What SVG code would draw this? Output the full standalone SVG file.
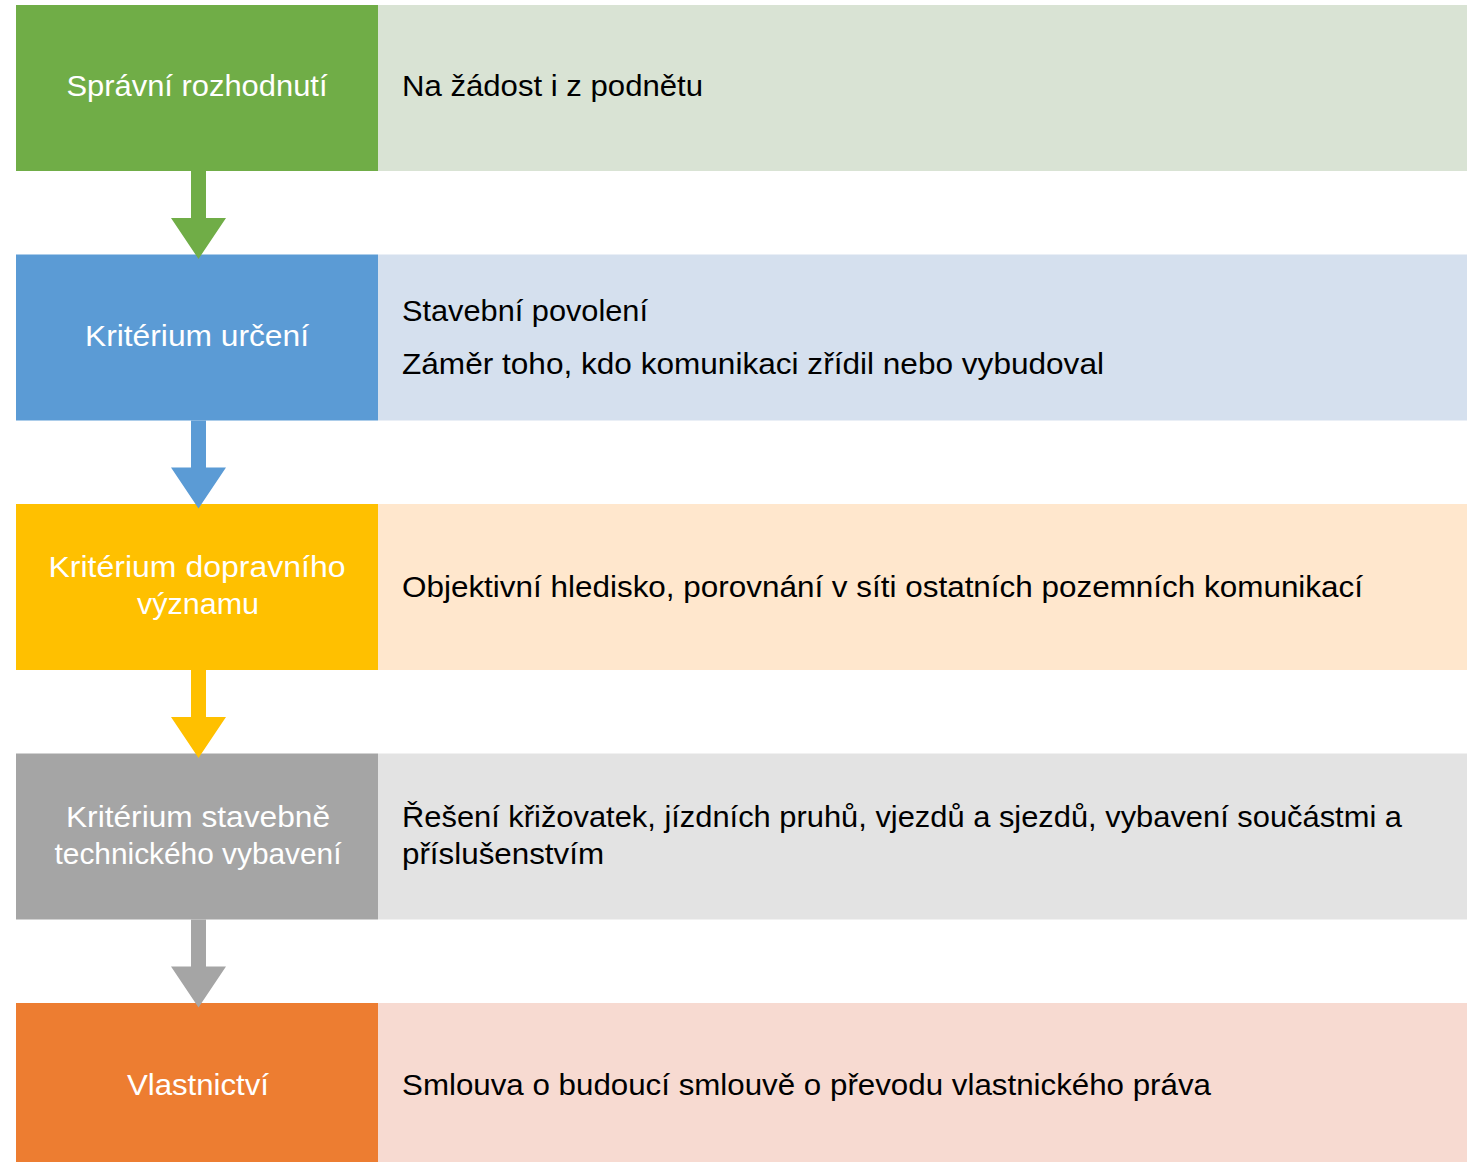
<svg xmlns="http://www.w3.org/2000/svg" width="1473" height="1162" viewBox="0 0 1473 1162">
<style>
text{font-family:"Liberation Sans",Arial,sans-serif;font-size:30px}
.l{fill:#FFFFFF;text-anchor:middle}
.r{fill:#000000}
</style>
<rect width="1473" height="1162" fill="#FFFFFF"/>
<g id="row1">
<rect x="16" y="5" width="362" height="166" fill="#70AD47"/>
<rect x="378" y="5" width="1089" height="166" fill="#D9E3D4"/>
<text class="l" x="197" y="95.5" textLength="261" lengthAdjust="spacingAndGlyphs">Správní rozhodnutí</text>
<text class="r" x="402" y="95.5" textLength="301" lengthAdjust="spacingAndGlyphs">Na žádost i z podnětu</text>
</g>
<g id="row2">
<rect x="16" y="254.5" width="362" height="166" fill="#5B9BD5"/>
<rect x="378" y="254.5" width="1089" height="166" fill="#D5E0EE"/>
<text class="l" x="197" y="346" textLength="224" lengthAdjust="spacingAndGlyphs">Kritérium určení</text>
<text class="r" x="402" y="321" textLength="246" lengthAdjust="spacingAndGlyphs">Stavební povolení</text>
<text class="r" x="402" y="374" textLength="702" lengthAdjust="spacingAndGlyphs">Záměr toho, kdo komunikaci zřídil nebo vybudoval</text>
</g>
<g id="row3">
<rect x="16" y="504" width="362" height="166" fill="#FFC000"/>
<rect x="378" y="504" width="1089" height="166" fill="#FFE7CD"/>
<text class="l" x="197" y="577" textLength="297" lengthAdjust="spacingAndGlyphs">Kritérium dopravního</text>
<text class="l" x="198" y="614" textLength="122" lengthAdjust="spacingAndGlyphs">významu</text>
<text class="r" x="402" y="596.5" textLength="961" lengthAdjust="spacingAndGlyphs">Objektivní hledisko, porovnání v síti ostatních pozemních komunikací</text>
</g>
<g id="row4">
<rect x="16" y="753.5" width="362" height="166" fill="#A5A5A5"/>
<rect x="378" y="753.5" width="1089" height="166" fill="#E3E3E3"/>
<text class="l" x="198" y="826.5" textLength="264" lengthAdjust="spacingAndGlyphs">Kritérium stavebně</text>
<text class="l" x="198" y="863.5" textLength="287" lengthAdjust="spacingAndGlyphs">technického vybavení</text>
<text class="r" x="402" y="826.5" textLength="1000" lengthAdjust="spacingAndGlyphs">Řešení křižovatek, jízdních pruhů, vjezdů a sjezdů, vybavení součástmi a</text>
<text class="r" x="402" y="863.5" textLength="202" lengthAdjust="spacingAndGlyphs">příslušenstvím</text>
</g>
<g id="row5">
<rect x="16" y="1003" width="362" height="166" fill="#ED7D31"/>
<rect x="378" y="1003" width="1089" height="166" fill="#F7DAD1"/>
<text class="l" x="198" y="1094.5" textLength="142" lengthAdjust="spacingAndGlyphs">Vlastnictví</text>
<text class="r" x="402" y="1094.5" textLength="809" lengthAdjust="spacingAndGlyphs">Smlouva o budoucí smlouvě o převodu vlastnického práva</text>
</g>
<g id="connectors">
<path d="M191 171H206V218H226L198.5 259L171 218H191Z" fill="#70AD47"/>
<path d="M191 420.5H206V467.5H226L198.5 508.5L171 467.5H191Z" fill="#5B9BD5"/>
<path d="M191 670H206V717H226L198.5 758L171 717H191Z" fill="#FFC000"/>
<path d="M191 919.5H206V966.5H226L198.5 1007.5L171 966.5H191Z" fill="#A5A5A5"/>
</g>
</svg>
